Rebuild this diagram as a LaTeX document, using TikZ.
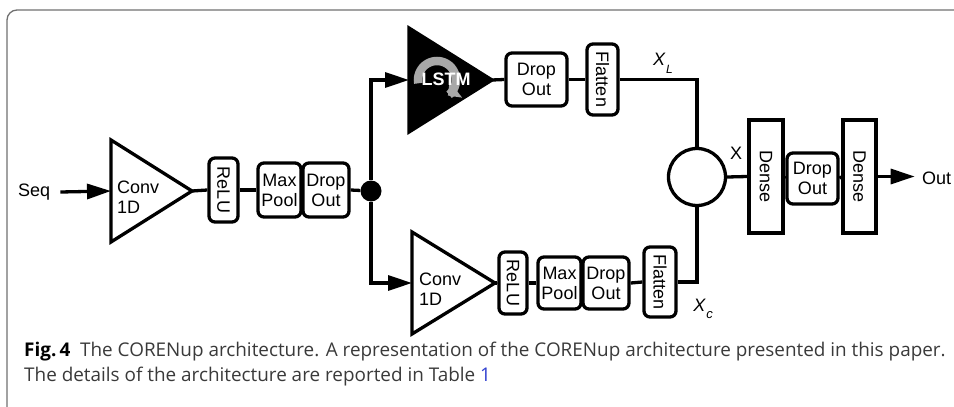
\documentclass[tikz,border=0pt]{standalone}
\usepackage{fontspec}
\setmainfont{Liberation Sans}
\newfontfamily\capfont{Open Sans}
\usetikzlibrary{arrows.meta,backgrounds}
\definecolor{framegray}{HTML}{707070}
\definecolor{captext}{HTML}{3A3A3A}
\definecolor{linkblue}{HTML}{3040D0}
\definecolor{loopgray}{HTML}{A8A8A8}

\begin{document}
\begin{tikzpicture}[x=1pt,y=-1pt,
  wire/.style={line width=3.3pt},
  arr/.style={line width=3.3pt,-{Triangle[length=24pt,width=15pt]}},
  lbl/.style={font=\fontsize{18}{20}\selectfont,inner sep=0,align=left},
  blk/.style={draw,line width=3.3pt,rounded corners=6pt,fill=white,inner sep=0,
              align=center,font=\fontsize{18}{20}\selectfont},
  vblk/.style={blk,rotate=-90},
  dense/.style={draw,line width=3.3pt,fill=white,inner sep=0,rotate=-90,
              font=\fontsize{18}{20}\selectfont},
  tri/.style={draw,line width=3.3pt,line join=miter,fill=white}
]
\useasboundingbox (0,0) rectangle (954,407);

% frame
\draw[framegray,line width=1.3pt,rounded corners=10pt] (7,407) -- (7,10) -- (954,10);

% input
\node[lbl,anchor=west] (seq) at (18,192) {Seq};

% first convolution
\coordinate (c1w) at (111,191);
\coordinate (c1e) at (192,191);
\draw[tri] (111,140) -- (c1e) -- (111,242) -- cycle;
\node[lbl,anchor=west] (c1t) at (117,197) {Conv\\1D};

% rotated boxes: .south is the left side, .north the right side
\node[vblk,minimum width=64pt,minimum height=29pt] (relu1) at (223.5,190) {ReLU};
\node[blk,minimum width=43pt,minimum height=54pt] (pool1) at (279.5,190) {Max\\Pool};
\node[blk,minimum width=46pt,minimum height=54pt] (drop1) at (326,190) {Drop\\Out};
\node[circle,fill=black,minimum size=21pt,inner sep=0] (split) at (371,191) {};

% LSTM branch
\coordinate (lw) at (409,80);
\coordinate (le) at (492,80);
\draw[line width=3.3pt,line join=miter,fill=black] (409,28) -- (le) -- (409,132) -- cycle;
\draw[loopgray,line width=8.5pt,-{Triangle[length=10pt,width=20pt]}]
  plot[domain=190:-55,samples=50] ({437+19*cos(\x)},{80-19*sin(\x)});
\node[font=\fontsize{18}{20}\selectfont\bfseries,text=white,inner sep=0] (lstm) at (446,79) {LSTM};

\node[blk,minimum width=61pt,minimum height=53pt] (drop2) at (536.5,79.5) {Drop\\Out};
\node[vblk,minimum width=71pt,minimum height=31pt] (flat2) at (602.5,79.5) {Flatten};

% convolution branch
\coordinate (c2w) at (412,283);
\coordinate (c2e) at (495,283);
\draw[tri] (412,232) -- (c2e) -- (412,334) -- cycle;
\node[lbl,anchor=west] (c2t) at (419,289) {Conv\\1D};

\node[vblk,minimum width=62pt,minimum height=28pt] (relu2) at (513,283) {ReLU};
\node[blk,minimum width=43pt,minimum height=52pt] (pool2) at (559.5,283) {Max\\Pool};
\node[blk,minimum width=46pt,minimum height=52pt] (drop3) at (606,283) {Drop\\Out};
\node[vblk,minimum width=70pt,minimum height=32pt] (flat3) at (660,282) {Flatten};

% merge and output
\node[circle,draw,line width=3.3pt,minimum size=57pt,inner sep=0] (join) at (697,177) {};
\node[dense,minimum width=113pt,minimum height=34pt] (dense1) at (766,176.5) {Dense};
\node[blk,minimum width=51pt,minimum height=51pt] (drop4) at (812.5,178.5) {Drop\\Out};
\node[dense,minimum width=113pt,minimum height=33pt] (dense2) at (859.5,176.5) {Dense};
\node[lbl,anchor=west] (out) at (922,178) {Out};

% labels
\node[lbl] (xl) at (663,63) {\itshape X\kern1pt\raisebox{-8pt}{\fontsize{12}{12}\selectfont L}};
\node[lbl] (xc) at (703,309) {\itshape X\kern1pt\raisebox{-7pt}{\fontsize{13}{13}\selectfont c}};
\node[lbl] (x) at (736,153) {X};

% connectors
\begin{scope}[on background layer]
\draw[arr] (seq.east) ++(10pt,0) coordinate (seqs) -- (c1w);
\draw[wire] (c1e) -- (relu1.south);
\draw[wire] (relu1.north) -- (pool1.west);
\draw[wire] (drop1.east) -- (split);
\draw[arr] (split) |- (lw);
\draw[arr] (split) |- (c2w);
\draw[wire] (le) -- (drop2.west);
\draw[wire] (drop2.east) -- (flat2.south);
\draw[wire] (flat2.north) -| (join.north);
\draw[wire] (c2e) -- (relu2.south);
\draw[wire] (relu2.north) -- (pool2.west);
\draw[wire] (drop3.east) -- (flat3.south);
\draw[wire] (flat3.north) -| (join.south);
\draw[wire] (join.east) -- (dense1.south);
\draw[wire] (dense1.north) -- (drop4.west);
\draw[wire] (drop4.east) -- (dense2.south);
\draw[arr] (dense2.north) -- ++(37pt,0) coordinate (outs);
\end{scope}

% caption
\node[anchor=north west,inner sep=0,align=left,text=captext,
      font=\capfont\fontsize{18.9}{25}\selectfont] (cap) at (24,342)
  {{\bfseries\color{black}Fig.\,4}\ \ The CORENup architecture. A representation of the CORENup architecture presented in this paper.\\
   The details of the architecture are reported in Table {\color{linkblue}1}};
\end{tikzpicture}
\end{document}
